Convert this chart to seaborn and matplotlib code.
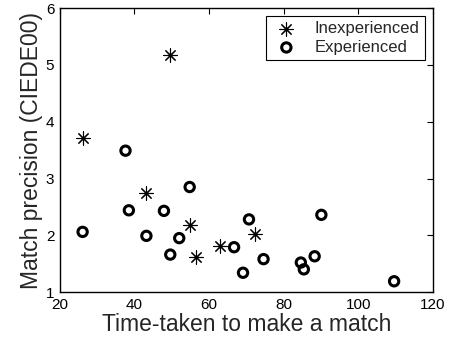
import matplotlib
matplotlib.use("Agg")
import matplotlib.pyplot as plt
import seaborn as sns
import pandas as pd

inexp_time = [26.1, 49.6, 43.2, 54.8, 56.4, 62.9, 72.2]
inexp_prec = [3.72, 5.18, 2.75, 2.18, 1.62, 1.82, 2.03]

exp_time = [26.1, 37.6, 38.5, 43.2, 47.9, 49.6, 52.0, 54.8, 66.7, 70.7,
            69.1, 74.6, 84.6, 85.4, 88.3, 90.1, 109.6]
exp_prec = [2.06, 3.49, 2.44, 1.99, 2.43, 1.66, 1.95, 2.85, 1.79, 2.28,
            1.34, 1.58, 1.52, 1.40, 1.63, 2.36, 1.19]

x_ticks = [20, 40, 60, 80, 100, 120]
y_ticks = [1, 2, 3, 4, 5, 6]

sns.set_style("white")
plt.rcParams['font.family'] = ['Liberation Sans', 'DejaVu Sans']
plt.rcParams['xtick.direction'] = 'in'
plt.rcParams['ytick.direction'] = 'in'

df_in = pd.DataFrame({"t": inexp_time, "p": inexp_prec})
df_ex = pd.DataFrame({"t": exp_time, "p": exp_prec})

fig = plt.figure(figsize=(4.5, 3.4), dpi=100)
ax = fig.add_axes([0.133, 0.141, 0.829, 0.835])

sns.scatterplot(data=df_in, x="t", y="p", ax=ax, marker=(8, 2, 0), s=90,
                color="black", linewidth=0.8, label="Inexperienced")
sns.scatterplot(data=df_ex, x="t", y="p", ax=ax, marker="o", s=45,
                facecolors="none", edgecolor="black", linewidth=2.2,
                label="Experienced")

ax.set_xlim(20, 120)
ax.set_ylim(1, 6)
ax.set_xticks(x_ticks)
ax.set_yticks(y_ticks)
ax.tick_params(axis='both', which='both', labelsize=11, length=4, width=0.8,
               top=True, right=True, colors='black', pad=4)
for sp in ax.spines.values():
    sp.set_color('black')
    sp.set_linewidth(1.0)

ax.set_xlabel("Time-taken to make a match", fontsize=16.5, labelpad=1)
ax.set_ylabel("Match precision (CIEDE00)", fontsize=16.5, labelpad=2)

leg = ax.legend(loc="upper right", fontsize=12, frameon=True, fancybox=False,
                edgecolor="black", framealpha=1, borderaxespad=0.5,
                handletextpad=0.8, borderpad=0.3, labelspacing=0.2,
                handlelength=1.8)
leg.get_frame().set_linewidth(0.8)

fig.savefig("out.png", dpi=100)
